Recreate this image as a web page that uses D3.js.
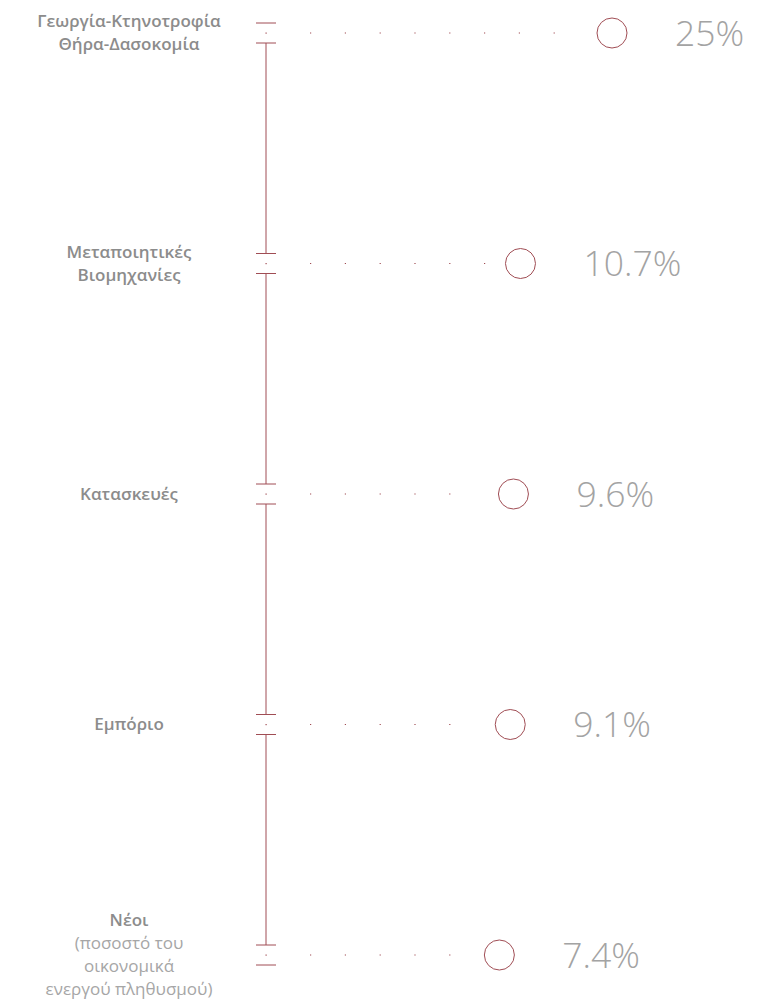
<!DOCTYPE html>
<html lang="el">
<head>
  <meta charset="UTF-8">
  <style>
    body { margin: 0; background: #fff; }
    .cat { font-family: "Open Sans", "Noto Sans", sans-serif; font-size: 17px; fill: #a6a6a6; text-anchor: middle; }
    .cat .b { font-weight: 600; fill: #8c8c8c; }
    .val { font-family: "Open Sans", "Noto Sans", sans-serif; font-weight: 300; font-size: 35.5px; fill: #a3a3a3; }
  </style>
  <script src="https://d3js.org/d3.v7.min.js"></script>
</head>
<body>
  <svg width="781" height="1008" id="chart"></svg>
  <script>
    // Categories (bold part + optional light note lines)
    const categories = [
      ["Γεωργία-Κτηνοτροφία", "Θήρα-Δασοκομία"],
      ["Μεταποιητικές", "Βιομηχανίες"],
      ["Κατασκευές"],
      ["Εμπόριο"],
      ["Νέοι"]
    ];
    const notes = [[], [], [], [], ["(ποσοστό του", "οικονομικά", "ενεργού πληθυσμού)"]];
    const values = [25, 10.7, 9.6, 9.1, 7.4];
    const valueLabels = ["25%", "10.7%", "9.6%", "9.1%", "7.4%"];

    const red = "#a04d54";
    const axisX = 266;
    const svg = d3.select("#chart");
    const idx = d3.range(values.length);

    const y = d3.scalePoint().domain(idx).range([33, 955]);
    const x = d3.scaleLinear().domain([0, 25]).range([452, 612]);

    // vertical axis segments between the rows
    svg.selectAll(".seg").data(idx.slice(1)).enter().append("line")
      .attr("x1", axisX).attr("x2", axisX)
      .attr("y1", i => y(i - 1) + 10).attr("y2", i => y(i) - 10)
      .attr("stroke", red).attr("stroke-width", 1);

    // row ticks and centre dot
    const row = svg.selectAll(".row").data(idx).enter().append("g")
      .attr("transform", i => `translate(0,${y(i)})`);

    row.selectAll(".tk").data([-10, 10]).enter().append("line")
      .attr("x1", axisX - 10).attr("x2", axisX + 10)
      .attr("y1", d => d).attr("y2", d => d)
      .attr("stroke", red).attr("stroke-width", 1);

    row.append("rect").attr("x", axisX - 0.5).attr("y", -0.5)
      .attr("width", 1.2).attr("height", 1.2).attr("fill", red);

    // dotted leader up to the circle
    row.append("line")
      .attr("x1", axisX + 44).attr("x2", i => x(values[i]) - 30)
      .attr("y1", 0).attr("y2", 0)
      .attr("stroke", red).attr("stroke-width", 1.2)
      .attr("stroke-dasharray", "1.2,33.6");

    row.append("circle")
      .attr("cx", i => x(values[i])).attr("cy", 0).attr("r", 15)
      .attr("fill", "none").attr("stroke", red).attr("stroke-width", 1);

    row.append("text").attr("class", "val")
      .attr("x", i => x(values[i]) + 63).attr("y", 0)
      .attr("dy", "0.36em")
      .text(i => valueLabels[i]);

    // category labels
    const lh = 23;
    row.append("text").attr("class", "cat")
      .each(function (i) {
        const lines = categories[i].map(t => ({ t, b: true }))
          .concat(notes[i].map(t => ({ t, b: false })));
        const t = d3.select(this);
        const top = -(lines.length - 1) * lh / 2;
        lines.forEach((l, k) => {
          t.append("tspan").attr("class", l.b ? "b" : null)
            .attr("x", 129).attr("y", top + k * lh).attr("dy", "0.35em")
            .text(l.t);
        });
      });
  </script>
</body>
</html>
